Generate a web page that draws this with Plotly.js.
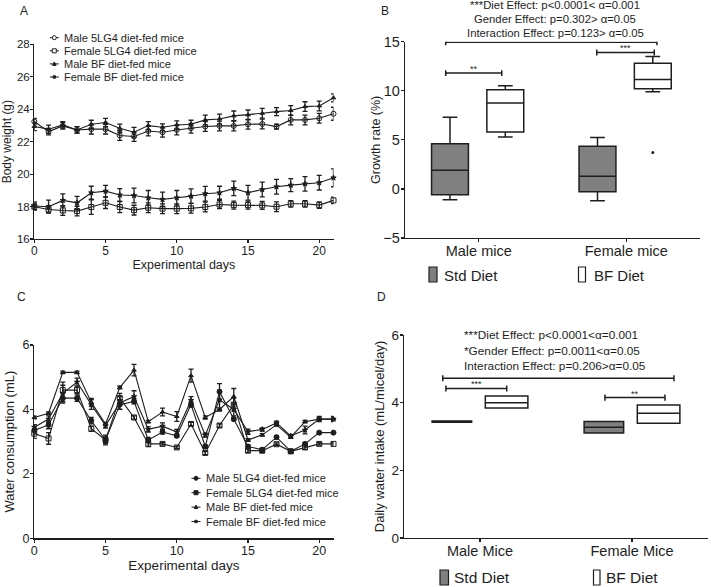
<!DOCTYPE html>
<html><head><meta charset="utf-8">
<script src="https://cdn.plot.ly/plotly-3.0.1.min.js"></script>
<style>html,body{margin:0;padding:0;background:#fff}#chart{width:711px;height:587px}</style>
</head><body><div id="chart"></div>
<script>
// ---------------- DATA ----------------
const days = [0,1,2,3,4,5,6,7,8,9,10,11,12,13,14,15,16,17,18,19,20,21];
const seriesNames = ['Male 5LG4 diet-fed mice','Female 5LG4 diet-fed mice','Male BF diet-fed mice','Female BF diet-fed mice'];

// Panel A: body weight (g)
const bwMaleStd   = [23.24,22.62,22.97,22.72,22.77,22.77,22.38,22.32,22.66,22.58,22.72,22.83,22.93,22.97,22.97,23.07,23.09,22.93,23.34,23.34,23.44,23.72];
const bwMaleStdErr= [0.2,0.2,0.2,0.2,0.3,0.3,0.3,0.3,0.3,0.3,0.3,0.3,0.3,0.3,0.3,0.3,0.3,0.15,0.3,0.3,0.3,0.4];
const bwFemaleStd = [17.99,17.82,17.76,17.72,17.97,18.23,17.97,17.78,17.93,17.87,17.87,17.89,17.97,18.13,18.09,18.09,18.07,17.99,18.17,18.17,18.09,18.38];
const bwFemaleStdErr=[0.2,0.2,0.3,0.3,0.45,0.35,0.35,0.3,0.3,0.3,0.3,0.3,0.3,0.25,0.25,0.25,0.25,0.3,0.2,0.2,0.2,0.2];
const bwMaleBF    = [22.93,22.77,23.03,22.72,23.07,23.18,22.83,22.58,22.99,22.89,23.03,23.07,23.34,23.40,23.59,23.65,23.75,23.85,23.92,24.16,24.20,24.70];
const bwMaleBFErr = [0.25,0.25,0.2,0.2,0.25,0.25,0.25,0.3,0.25,0.2,0.25,0.25,0.3,0.3,0.3,0.3,0.3,0.25,0.3,0.3,0.3,0.25];
const bwFemaleBF  = [18.03,17.99,18.38,18.23,18.85,18.95,18.71,18.68,18.54,18.44,18.54,18.64,18.79,18.85,19.12,18.85,19.05,19.22,19.32,19.40,19.47,19.77];
const bwFemaleBFErr=[0.25,0.4,0.4,0.4,0.4,0.35,0.4,0.45,0.45,0.45,0.45,0.45,0.45,0.4,0.45,0.45,0.45,0.45,0.4,0.45,0.45,0.55];

// Panel C: water consumption (mL)
const wcMaleStd    = [3.35,3.52,4.35,4.35,3.65,3.05,4.15,4.25,3.05,3.30,3.18,4.15,2.85,4.55,3.70,2.85,2.75,3.14,2.70,2.93,3.28,3.28];
const wcMaleStdErr = [0.1,0.12,0.15,0.1,0.1,0.1,0.15,0.08,0.08,0.06,0.05,0.08,0.05,0.25,0.05,0.05,0.05,0.05,0.05,0.05,0.04,0.04];
const wcFemaleStd  = [3.25,3.10,4.60,4.60,3.40,3.05,4.35,3.75,2.93,2.93,2.82,3.55,2.65,3.50,4.15,2.72,2.72,2.92,2.70,2.82,2.93,2.93];
const wcFemaleStdErr=[0.15,0.18,0.25,0.1,0.08,0.15,0.15,0.05,0.08,0.04,0.04,0.05,0.05,0.05,0.2,0.05,0.06,0.04,0.06,0.06,0.04,0.04];
const wcMaleBF     = [3.75,3.88,5.15,5.15,4.22,3.55,4.68,5.22,3.62,3.92,3.78,5.05,3.75,4.00,4.40,3.05,3.21,3.52,3.14,3.62,3.70,3.70];
const wcMaleBFErr  = [0.04,0.04,0.04,0.04,0.12,0.05,0.04,0.18,0.04,0.12,0.15,0.2,0.05,0.05,0.25,0.04,0.04,0.04,0.04,0.04,0.04,0.04];
const wcFemaleBF   = [3.45,3.70,4.50,4.85,4.15,3.50,4.20,4.40,3.38,3.48,3.30,4.28,3.20,4.30,4.00,3.31,3.38,3.58,3.18,3.36,3.70,3.70];
const wcFemaleBFErr= [0.08,0.1,0.25,0.12,0.15,0.08,0.2,0.18,0.08,0.1,0.08,0.12,0.06,0.3,0.2,0.08,0.05,0.06,0.04,0.12,0.08,0.08];

// Panel B: growth rate (%) box statistics
const bGroups = ['Male mice','Female mice'];
const grStdLower = [-1.1,-1.2];
const grStdQ1    = [-0.6,-0.3];
const grStdMed   = [1.9,1.3];
const grStdQ3    = [4.6,4.35];
const grStdUpper = [7.3,5.25];
const grBFLower  = [5.3,9.9];
const grBFQ1     = [5.8,10.2];
const grBFMed    = [8.75,11.15];
const grBFQ3     = [10.1,12.8];
const grBFUpper  = [10.5,13.5];
const grBFOutlierY = [3.7];
const grBFOutlierGroup = [1];

// Panel D: daily water intake box statistics
const dGroups = ['Male Mice','Female Mice'];
const wiStdLower = [3.42,3.10];
const wiStdQ1    = [3.42,3.10];
const wiStdMed   = [3.44,3.27];
const wiStdQ3    = [3.46,3.44];
const wiStdUpper = [3.46,3.44];
const wiBFLower  = [3.84,3.39];
const wiBFQ1     = [3.84,3.39];
const wiBFMed    = [4.00,3.69];
const wiBFQ3     = [4.20,3.93];
const wiBFUpper  = [4.20,3.93];

const statsB = ['***Diet Effect: p&lt;0.0001&lt; α=0.001','Gender Effect: p=0.302&gt; α=0.05','Interaction Effect: p=0.123&gt; α=0.05'];
const statsD = ['***Diet Effect: p&lt;0.0001&lt;α=0.001','*Gender Effect: p=0.0011&lt;α=0.05','Interaction Effect: p=0.206&gt;α=0.05'];

// ---------------- STYLE / LAYOUT HELPERS ----------------
const FONT = 'Liberation Sans, Arial, Helvetica, sans-serif';
const INK = '#1e1e1e';
const GRAY = '#808080';
const W = 711, H = 587;
const X = v => v / W, Y = v => 1 - v / H;

function lineTrace(xa, ya, y, err, symbol, size) {
  return {type:'scatter', mode:'lines+markers', xaxis:xa, yaxis:ya, x:days, y:y, cliponaxis:false,
    line:{color:INK, width:1.1}, marker:{symbol:symbol, size:size, color:INK, line:{color:INK, width:1}},
    error_y:{type:'data', array:err, visible:true, color:INK, thickness:1.3, width:2.5},
    hoverinfo:'skip', showlegend:false};
}
function boxTrace(xa, ya, pos, lf, q1, med, q3, uf, fill, width) {
  return {type:'box', xaxis:xa, yaxis:ya, x:pos, lowerfence:lf, q1:q1, median:med, q3:q3, upperfence:uf,
    width:width, fillcolor:fill, line:{color:INK, width:1.5}, whiskerwidth:0.4, boxpoints:false,
    hoverinfo:'skip', showlegend:false};
}

const offB = [-0.195, 0.18], offD = [-0.185, 0.175];
const traces = [
  lineTrace('x','y', bwMaleStd, bwMaleStdErr, 'circle-open', 5),
  lineTrace('x','y', bwFemaleStd, bwFemaleStdErr, 'square-open', 5),
  lineTrace('x','y', bwMaleBF, bwMaleBFErr, 'triangle-up', 4),
  lineTrace('x','y', bwFemaleBF, bwFemaleBFErr, 'star', 4),
  boxTrace('x2','y2', bGroups.map((_,i)=>i+offB[0]), grStdLower, grStdQ1, grStdMed, grStdQ3, grStdUpper, GRAY, 0.25),
  boxTrace('x2','y2', bGroups.map((_,i)=>i+offB[1]), grBFLower, grBFQ1, grBFMed, grBFQ3, grBFUpper, '#ffffff', 0.25),
  {type:'scatter', mode:'markers', xaxis:'x2', yaxis:'y2', x:grBFOutlierGroup.map(g=>g+offB[1]), y:grBFOutlierY,
    marker:{size:3, color:INK}, hoverinfo:'skip', showlegend:false},
  lineTrace('x3','y3', wcMaleStd, wcMaleStdErr, 'circle', 5),
  lineTrace('x3','y3', wcFemaleStd, wcFemaleStdErr, 'square-open', 5),
  lineTrace('x3','y3', wcMaleBF, wcMaleBFErr, 'triangle-up', 4),
  lineTrace('x3','y3', wcFemaleBF, wcFemaleBFErr, 'star', 4),
  boxTrace('x4','y4', dGroups.map((_,i)=>i+offD[0]), wiStdLower, wiStdQ1, wiStdMed, wiStdQ3, wiStdUpper, GRAY, 0.26),
  boxTrace('x4','y4', dGroups.map((_,i)=>i+offD[1]), wiBFLower, wiBFQ1, wiBFMed, wiBFQ3, wiBFUpper, '#ffffff', 0.28)
];

function axis(extra) {
  return Object.assign({showline:true, linecolor:INK, linewidth:1.3, ticks:'outside', ticklen:3, tickwidth:1.2,
    tickcolor:INK, showgrid:false, zeroline:false, fixedrange:true, tickfont:{size:12, color:INK}}, extra);
}

const shapes = [];
function sigBar(xa, ya, x0, x1, y, cap) {
  const base = {xref:xa, yref:ya, type:'line', line:{color:INK, width:1.5}};
  shapes.push(Object.assign({}, base, {x0:x0, x1:x1, y0:y, y1:y}));
  shapes.push(Object.assign({}, base, {x0:x0, x1:x0, y0:y-cap, y1:y+cap}));
  shapes.push(Object.assign({}, base, {x0:x1, x1:x1, y0:y-cap, y1:y+cap}));
}
sigBar('x2','y2', -0.224, 1.208, 14.95, 0.3);
sigBar('x2','y2', -0.224, 0.156, 11.8, 0.3);
sigBar('x2','y2', 0.80, 1.19, 13.9, 0.3);
sigBar('x4','y4', -0.245, 1.276, 4.72, 0.09);
sigBar('x4','y4', -0.224, 0.176, 4.42, 0.09);
sigBar('x4','y4', 0.822, 1.217, 4.15, 0.09);

const annotations = [];
function note(x, y, text, size, xanchor, extra) {
  annotations.push(Object.assign({xref:'paper', yref:'paper', x:X(x), y:Y(y), text:text, showarrow:false,
    xanchor:xanchor||'left', yanchor:'middle', font:{size:size, color:INK, family:FONT}}, extra||{}));
}
function stars(xa, ya, x, y, text) {
  annotations.push({xref:xa, yref:ya, x:x, y:y, text:text, showarrow:false, xanchor:'center', yanchor:'bottom',
    yshift:-3, font:{size:9, color:INK, family:FONT}});
}
stars('x2','y2', -0.034, 11.8, '**');
stars('x2','y2', 0.995, 13.9, '***');
stars('x4','y4', -0.024, 4.42, '***');
stars('x4','y4', 1.02, 4.15, '**');

// panel letters
note(23.5, 11, 'A', 12, 'center');
note(385, 11, 'B', 12, 'center');
note(21, 297, 'C', 12, 'center');
note(381.5, 297, 'D', 12, 'center');

// stats text
statsB.forEach((t,i) => note(555, 5 + i*14.2, t, 11.3, 'center'));
statsD.forEach((t,i) => note(461.5, 335 + i*15.5, t, 11.8, 'left'));

// manual legends for the line panels
function legendIcon(cx, cy, sym) {
  shapes.push({type:'line', xref:'paper', yref:'paper', x0:X(cx-4.5), x1:X(cx+4.5), y0:Y(cy), y1:Y(cy), line:{color:INK, width:1}});
  const r = 2;
  const b = {xref:'paper', yref:'paper', line:{color:INK, width:1}};
  if (sym === 'circle-open') shapes.push(Object.assign({type:'circle', x0:X(cx-r), x1:X(cx+r), y0:Y(cy+r), y1:Y(cy-r), fillcolor:'#fff'}, b));
  if (sym === 'circle') shapes.push(Object.assign({type:'circle', x0:X(cx-r), x1:X(cx+r), y0:Y(cy+r), y1:Y(cy-r), fillcolor:INK}, b));
  if (sym === 'square-open') shapes.push(Object.assign({type:'rect', x0:X(cx-r), x1:X(cx+r), y0:Y(cy+r), y1:Y(cy-r), fillcolor:'#fff'}, b));
  if (sym === 'square') shapes.push(Object.assign({type:'rect', x0:X(cx-r), x1:X(cx+r), y0:Y(cy+r), y1:Y(cy-r), fillcolor:INK}, b));
  if (sym === 'triangle') shapes.push(Object.assign({type:'path', path:`M ${X(cx)} ${Y(cy-2)} L ${X(cx+1.8)} ${Y(cy+1.5)} L ${X(cx-1.8)} ${Y(cy+1.5)} Z`, fillcolor:INK}, b));
  if (sym === 'star') shapes.push(Object.assign({type:'rect', x0:X(cx-1.2), x1:X(cx+1.2), y0:Y(cy+1.2), y1:Y(cy-1.2), fillcolor:INK}, b));
}
const symA = ['circle-open','square-open','triangle','star'];
const symC = ['circle','square','triangle','star'];
seriesNames.forEach((n,i) => { legendIcon(54.3, 37.7 + i*13.1, symA[i]); note(61.5, 37.7 + i*13.1, n, 11); });
seriesNames.forEach((n,i) => { legendIcon(196, 478.3 + i*14.4, symC[i]); note(204, 478.3 + i*14.4, n, 11); });

// manual legends for box panels
function swatch(x0, x1, y0, y1, fill) {
  shapes.push({type:'rect', xref:'paper', yref:'paper', x0:X(x0), x1:X(x1), y0:Y(y1), y1:Y(y0), fillcolor:fill, line:{color:INK, width:1.2}});
}
swatch(429, 437, 267, 282, GRAY); note(442, 275, 'Std Diet', 15);
swatch(578.5, 585.5, 267, 282, '#fff'); note(591.5, 275, 'BF Diet', 15);
swatch(440, 448.5, 570, 585, GRAY); note(451.5, 577.5, 'Std Diet', 15.5);
swatch(593.5, 600, 570, 585, '#fff'); note(603.5, 577.5, 'BF Diet', 15.5);

const layout = {
  width:W, height:H, margin:{l:0, r:0, t:0, b:0}, paper_bgcolor:'#fff', plot_bgcolor:'rgba(0,0,0,0)',
  showlegend:false, font:{family:FONT, color:INK},
  xaxis: axis({domain:[X(34.3), X(333.5)], range:[0,21], tickvals:[0,5,10,15,20], anchor:'y', ticklabelstandoff:-3,
    tickfont:{size:12, color:INK}, title:{text:'Experimental days', font:{size:12.5, color:INK}, standoff:3}}),
  yaxis: axis({domain:[Y(239), Y(44.3)], range:[16,28], tickvals:[16,18,20,22,24,26,28], anchor:'x', ticklabelstandoff:-2,
    tickfont:{size:11.5, color:INK}, title:{text:'Body weight (g)', font:{size:12, color:INK}, standoff:7}}),
  xaxis2: axis({domain:[X(405), X(700)], range:[-0.5,1.5], tickvals:[0,1], ticktext:bGroups, anchor:'y2', ticklabelstandoff:-4,
    tickfont:{size:14.5, color:INK}}),
  yaxis2: axis({domain:[Y(238), Y(41.7)], range:[-5,15], tickvals:[-5,0,5,10,15], anchor:'x2', ticklabelstandoff:-2,
    tickfont:{size:14.5, color:INK}, title:{text:'Growth rate (%)', font:{size:12.5, color:INK}, standoff:0}}),
  xaxis3: axis({domain:[X(34.3), X(333.5)], range:[0,21], tickvals:[0,5,10,15,20], anchor:'y3', ticklabelstandoff:-3,
    tickfont:{size:12.5, color:INK}, title:{text:'Experimental days', font:{size:13.5, color:INK}, standoff:4}}),
  yaxis3: axis({domain:[Y(538.3), Y(345)], range:[0,6], tickvals:[0,2,4,6], anchor:'x3', ticklabelstandoff:-2,
    tickfont:{size:12.5, color:INK}, title:{text:'Water consumption (mL)', font:{size:13, color:INK}, standoff:5}}),
  xaxis4: axis({domain:[X(404), X(708)], range:[-0.5,1.5], tickvals:[0,1], ticktext:dGroups, anchor:'y4', ticklabelstandoff:-4,
    tickfont:{size:14.5, color:INK}}),
  yaxis4: axis({domain:[Y(538), Y(335)], range:[0,6], tickvals:[0,2,4,6], anchor:'x4', ticklabelstandoff:-2,
    tickfont:{size:13.5, color:INK}, title:{text:'Daily water intake (mL/micel/day)', font:{size:13, color:INK}, standoff:4}}),
  shapes:shapes, annotations:annotations
};

Plotly.newPlot('chart', traces, layout, {displayModeBar:false, staticPlot:true});
</script></body></html>
